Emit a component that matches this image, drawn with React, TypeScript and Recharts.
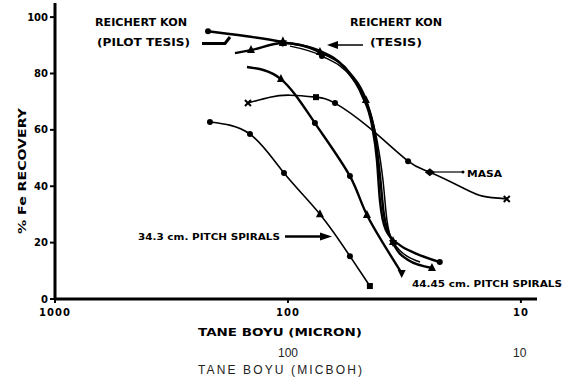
import React from 'react';
import { LineChart, Line, XAxis, YAxis } from 'recharts';

// ---- data (particle size in micron, % Fe recovery) ----
const masaSize = [148.5, 119.5, 98.0, 75.8, 62.8, 44.5, 30.5, 24.6, 17.7, 14.6, 11.5];
const masaRec = [69.5, 71.6, 72.3, 71.6, 69.5, 60.6, 48.9, 45.0, 39.4, 36.5, 35.5];

const sp343Size = [216.2, 145.6, 104.0, 72.9, 54.2, 44.5];
const sp343Rec = [62.8, 58.5, 44.7, 30.1, 15.2, 4.6];

const sp4445Size = [150.0, 107.2, 76.6, 54.2, 45.8, 32.5];
const sp4445Rec = [82.3, 78.0, 62.4, 43.6, 29.8, 9.2];

const pilotSize = [220.4, 152.9, 105.1, 74.3, 56.9, 48.1, 43.6, 41.5, 40.3, 38.0, 33.1, 28.5, 22.3];
const pilotRec = [95.0, 93.3, 91.1, 88.3, 81.9, 72.3, 61.7, 49.3, 35.1, 24.5, 19.1, 16.3, 13.1];

const tesisASize = [168.8, 144.1, 105.1, 72.9, 54.2, 46.3, 42.3, 40.3, 38.7, 35.8, 30.5, 24.1];
const tesisARec = [87.2, 88.3, 90.8, 87.6, 80.1, 70.6, 58.2, 44.0, 29.8, 20.9, 13.8, 11.0];

const tesisBSize = [98.0, 71.5, 53.1, 45.4, 41.5, 39.1, 37.6, 35.4, 27.1];
const tesisBRec = [89.7, 86.2, 78.4, 68.8, 56.4, 42.2, 28.0, 20.2, 13.1];

const xTicks = [1000, 100, 10];
const yTicks = [0, 20, 40, 60, 80, 100];

// ---- marker styles per point ----
const masaMarks = ['x', '', '', 'sq', 'dot', '', 'dot', 'dia', '', '', 'x'];
const sp343Marks = ['dot', 'dot', 'dot', 'tri', 'dot', 'sq'];
const sp4445Marks = ['', 'tri', 'dot', 'dot', 'tri', 'tridown'];
const pilotMarks = ['dot', '', 'star', '', '', '', '', '', '', '', '', '', 'dot'];
const tesisAMarks = ['', 'tri', 'tri', 'tri', '', 'tri', '', '', '', '', '', 'tri'];
const tesisBMarks = ['', 'dot', '', '', '', '', '', 'star', ''];

const build = (s: number[], r: number[]) => s.map((size, i) => ({ size, v: r[i] }));

const FONT = "'DejaVu Sans', sans-serif";

const makeDot = (marks: string[]) => (props: any) => {
  const { cx, cy, index } = props;
  const m = marks[index];
  const key = `d${index}`;
  if (!m || cx == null || cy == null) return <g key={key} />;
  switch (m) {
    case 'dot':
      return <circle key={key} cx={cx} cy={cy} r={3} fill="#000" />;
    case 'sq':
      return <rect key={key} x={cx - 3} y={cy - 3} width={6} height={6} fill="#000" />;
    case 'tri':
      return <polygon key={key} points={`${cx},${cy - 5} ${cx - 4},${cy + 3} ${cx + 4},${cy + 3}`} fill="#000" />;
    case 'tridown':
      return <polygon key={key} points={`${cx},${cy + 5} ${cx - 4},${cy - 3} ${cx + 4},${cy - 3}`} fill="#000" />;
    case 'dia':
      return <polygon key={key} points={`${cx},${cy - 4} ${cx + 5},${cy} ${cx},${cy + 4} ${cx - 5},${cy}`} fill="#000" />;
    case 'star':
      return (
        <g key={key}>
          <polygon points={`${cx},${cy - 6} ${cx - 4},${cy + 3} ${cx + 4},${cy + 3}`} fill="#000" />
          <polygon points={`${cx},${cy + 5} ${cx - 4},${cy - 2} ${cx + 4},${cy - 2}`} fill="#000" />
        </g>
      );
    case 'x':
      return (
        <g key={key} stroke="#000" strokeWidth={2}>
          <line x1={cx - 3} y1={cy - 3} x2={cx + 3} y2={cy + 3} />
          <line x1={cx - 3} y1={cy + 3} x2={cx + 3} y2={cy - 3} />
        </g>
      );
    default:
      return <g key={key} />;
  }
};

const series = [
  { id: 'masa', data: build(masaSize, masaRec), marks: masaMarks, w: 1.6, curve: 'natural' },
  { id: 'sp343', data: build(sp343Size, sp343Rec), marks: sp343Marks, w: 1.6, curve: 'natural' },
  { id: 'sp4445', data: build(sp4445Size, sp4445Rec), marks: sp4445Marks, w: 2.4, curve: 'natural' },
  { id: 'pilot', data: build(pilotSize, pilotRec), marks: pilotMarks, w: 2.4, curve: 'monotone' },
  { id: 'tesisA', data: build(tesisASize, tesisARec), marks: tesisAMarks, w: 2.4, curve: 'monotone' },
  { id: 'tesisB', data: build(tesisBSize, tesisBRec), marks: tesisBMarks, w: 1.5, curve: 'monotone' },
];

const boldText = { fontFamily: FONT, fontWeight: 'bold' as const, fill: '#000' };

export default function App() {
  return (
    <div style={{ position: 'absolute', left: 0, top: 0, width: 581, height: 380, background: '#fff' }}>
      <LineChart
        width={581}
        height={380}
        margin={{ top: 3, right: 44, bottom: 0, left: 0 }}
      >
        <XAxis
          type="number"
          dataKey="size"
          scale="log"
          domain={[8.53, 1000]}
          reversed
          ticks={xTicks}
          allowDataOverflow
          height={81}
          tickSize={4}
          tickMargin={6}
          axisLine={{ stroke: '#000', strokeWidth: 3 }}
          tickLine={{ stroke: '#000', strokeWidth: 2 }}
          tick={{ ...boldText, fontSize: 10, letterSpacing: 1 }}
        />
        <YAxis
          type="number"
          domain={[0, 105]}
          ticks={yTicks}
          width={55}
          tickSize={5}
          tickMargin={2}
          axisLine={{ stroke: '#000', strokeWidth: 3 }}
          tickLine={{ stroke: '#000', strokeWidth: 2 }}
          tick={{ ...boldText, fontSize: 10 }}
        />
        {series.map((s) => (
          <Line
            key={s.id}
            data={s.data}
            dataKey="v"
            type={s.curve as any}
            stroke="#000"
            strokeWidth={s.w}
            dot={makeDot(s.marks)}
            activeDot={false}
            isAnimationActive={false}
          />
        ))}
      </LineChart>
      <svg
        width={581}
        height={380}
        style={{ position: 'absolute', left: 0, top: 0, pointerEvents: 'none' }}
      >
        {/* annotations */}
        <text x={95} y={26} fontSize={10} textLength={92} lengthAdjust="spacingAndGlyphs" {...boldText}>REICHERT KON</text>
        <text x={97} y={46} fontSize={10} textLength={93} lengthAdjust="spacingAndGlyphs" {...boldText}>(PILOT TESIS)</text>
        <text x={350} y={26} fontSize={10} textLength={92} lengthAdjust="spacingAndGlyphs" {...boldText}>REICHERT KON</text>
        <text x={370} y={46} fontSize={10} textLength={52} lengthAdjust="spacingAndGlyphs" {...boldText}>(TESIS)</text>
        <text x={467} y={177} fontSize={9} textLength={35} lengthAdjust="spacingAndGlyphs" {...boldText}>MASA</text>
        <text x={138} y={240} fontSize={9} textLength={142} lengthAdjust="spacingAndGlyphs" {...boldText}>34.3 cm. PITCH SPIRALS</text>
        <text x={412} y={287} fontSize={9} textLength={150} lengthAdjust="spacingAndGlyphs" {...boldText}>44.45 cm. PITCH SPIRALS</text>

        {/* pilot arrow */}
        <polyline points="202,43.5 225,43.5 230,37" fill="none" stroke="#000" strokeWidth={3} />
        {/* tesis arrow */}
        <line x1={336} y1={45} x2={363} y2={45} stroke="#000" strokeWidth={1.5} />
        <polygon points="327,45 338,41 338,49" fill="#000" />
        {/* masa arrow */}
        <line x1={432} y1={172} x2={463} y2={172} stroke="#000" strokeWidth={1.2} />
        <circle cx={463} cy={172} r={1.5} fill="#000" />
        {/* 34.3 arrow */}
        <line x1={285} y1={236.5} x2={322} y2={236.5} stroke="#000" strokeWidth={2.5} />
        <polygon points="332,236.5 320,232.5 320,240.5" fill="#000" />

        {/* axis titles */}
        <text
          x={22}
          y={171}
          fontSize={10}
          textAnchor="middle"
          dominantBaseline="central"
          transform="rotate(-90 22 171)"
          textLength={126}
          lengthAdjust="spacingAndGlyphs"
          {...boldText}
        >
          % Fe RECOVERY
        </text>
        <text x={198} y={336} fontSize={11} textLength={164} lengthAdjust="spacingAndGlyphs" {...boldText}>
          TANE BOYU (MICRON)
        </text>

        {/* plain caption text below */}
        <text x={278} y={357} fontSize={12} fontFamily="'Liberation Sans', Arial, sans-serif" fill="#222">100</text>
        <text x={513} y={357} fontSize={12} fontFamily="'Liberation Sans', Arial, sans-serif" fill="#222">10</text>
        <text x={198} y={374} fontSize={12} fontFamily="'Liberation Sans', Arial, sans-serif" fill="#222" textLength={164} lengthAdjust="spacing">
          TANE  BOYU  (MICBOH)
        </text>
      </svg>
    </div>
  );
}
